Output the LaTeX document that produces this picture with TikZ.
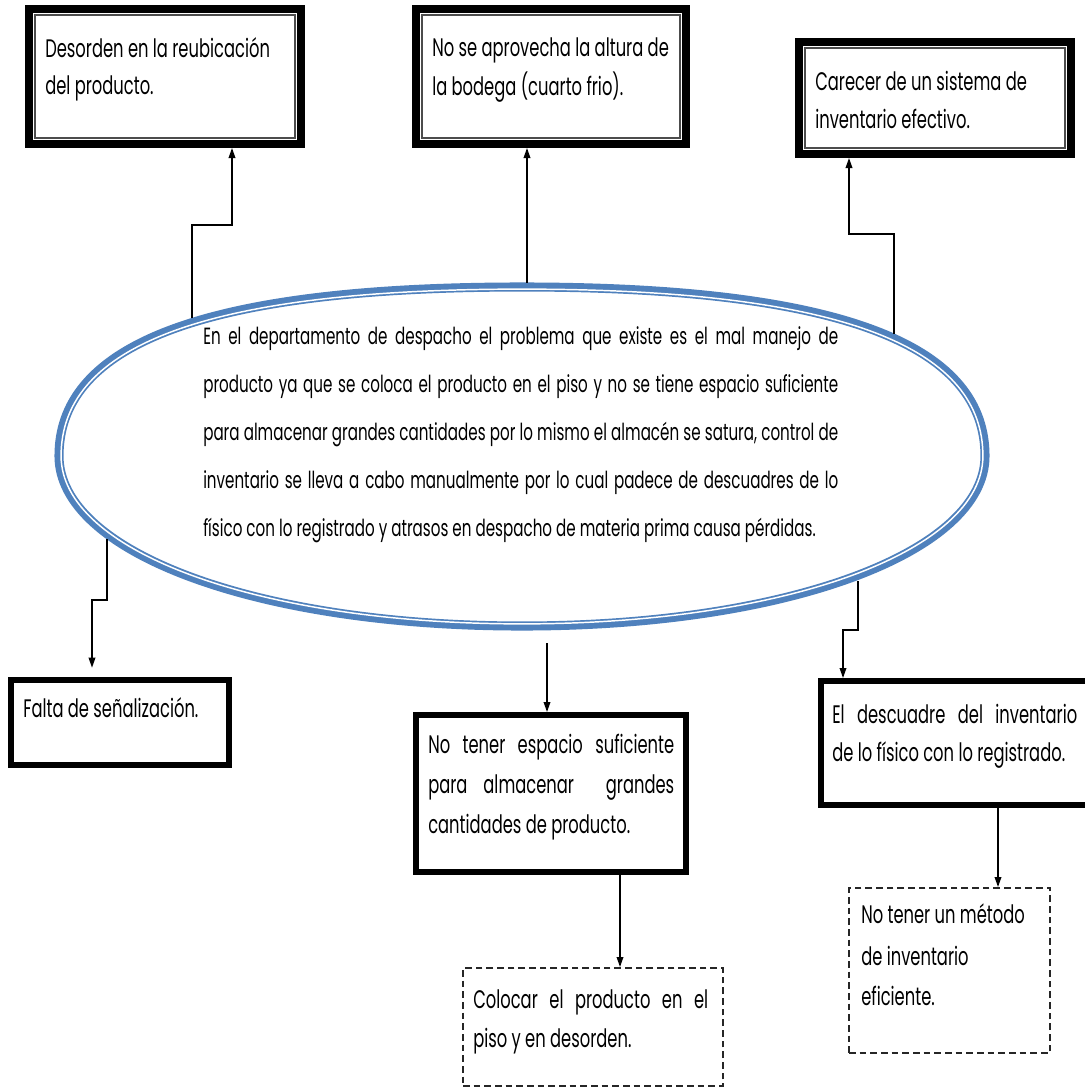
\documentclass[tikz,border=0pt]{standalone}
\usepackage{fontspec}
\setmainfont{Poppins}[FakeStretch=0.645]
\usetikzlibrary{arrows.meta,fit,calc}
\definecolor{ellblue}{RGB}{79,129,189}
\tikzset{
  x=0.75pt, y=-0.75pt,
  conn/.style={line width=1pt, draw=black},
  arr/.style={conn, -{Triangle[length=7.5pt,width=5pt]}},
  heavybox/.style={draw=black, line width=6pt, inner sep=0pt},
  boldbox/.style={draw=black, line width=4.5pt, inner sep=0pt},
  thinframe/.style={draw=black!70, line width=0.8pt},
  dashbox/.style={draw=black!85, line width=1.5pt, dash pattern=on 5pt off 3pt, inner sep=0pt},
  txt/.style={anchor=base west, inner sep=0pt, font=\fontsize{19}{24}\selectfont},
  etxt/.style={anchor=base west, inner sep=0pt, font=\fontsize{17.6}{22}\selectfont},
}
\def\blobpath{(-463,0) .. controls (-463,-105) and (-335,-169) .. (0,-169)
  .. controls (335,-169) and (463,-105) .. (463,0)
  .. controls (463,96) and (266,170) .. (0,170)
  .. controls (-266,170) and (-463,96) .. (-463,0) -- cycle}
\begin{document}
\begin{tikzpicture}
\clip (0,0) rectangle (1085,1089);
\fill[white] (0,0) rectangle (1085,1089);

% central shape
\coordinate (E) at (522,456);
\begin{scope}[shift={(E)}]
  \draw[ellblue, line width=6.8pt] \blobpath;
\end{scope}
\begin{scope}[shift={(E)}, xscale=0.9955, yscale=0.9875]
  \draw[white, line width=1.1pt] \blobpath;
\end{scope}

% top boxes (thick + thin frame)
\node[heavybox, fit={(29,9) (301,144)}] (b1) {};
\draw[thinframe] ($(b1.north west)+(10,10)$) rectangle ($(b1.south east)+(-10,-10)$);
\node[heavybox, fit={(416,9) (686,144)}] (b2) {};
\draw[thinframe] ($(b2.north west)+(10,10)$) rectangle ($(b2.south east)+(-10,-10)$);
\node[heavybox, fit={(799,42) (1071,154)}] (b3) {};
\draw[thinframe] ($(b3.north west)+(10,10)$) rectangle ($(b3.south east)+(-10,-10)$);

% lower boxes
\node[boldbox, fit={(11,680) (229,765)}] (b4) {};
\node[boldbox, fit={(416,715) (686,872)}] (b5) {};
\node[boldbox, fit={(821,681) (1092,805)}] (b6) {};

% dashed boxes
\node[dashbox, fit={(463,968) (723,1086)}] (d7) {};
\node[dashbox, fit={(849,888) (1050,1053)}] (d8) {};

% texts
\node[txt] (t1a) at (45,57) {Desorden en la reubicación};
\node[txt] (t1b) at (45,94) {del producto.};
\node[txt] (t2a) at (432,56) {No se aprovecha la altura de};
\node[txt] (t2b) at (432,95) {la bodega (cuarto frio).};
\node[txt] (t3a) at (815,90) {Carecer de un sistema de};
\node[txt] (t3b) at (815,128) {inventario efectivo.};
\node[txt] (t4a) at (23,717) {Falta de señalización.};
\node[txt] (t5a) at (428,753) {\makebox[184.5pt][s]{No tener espacio suficiente}};
\node[txt] (t5b) at (428,793) {\makebox[184.5pt][s]{para almacenar \ grandes}};
\node[txt] (t5c) at (428,833) {cantidades de producto.};
\node[txt] (t6a) at (832,723) {\makebox[183.75pt][s]{El descuadre del inventario}};
\node[txt] (t6b) at (832,761) {de lo físico con lo registrado.};
\node[txt] (t7a) at (473,1008) {\makebox[176.25pt][s]{Colocar el producto en el}};
\node[txt] (t7b) at (473,1047) {piso y en desorden.};
\node[txt] (t8a) at (861,923) {No tener un método};
\node[txt] (t8b) at (861,965) {de inventario};
\node[txt] (t8c) at (861,1005) {eficiente.};

\node[etxt] (ea) at (203,344) {\makebox[476.25pt][s]{En el departamento de despacho el problema que existe es el mal manejo de}};
\node[etxt] (eb) at (203,392) {\makebox[476.25pt][s]{producto ya que se coloca el producto en el piso y no se tiene espacio suficiente}};
\node[etxt] (ec) at (203,440) {\makebox[476.25pt][s]{para almacenar grandes cantidades por lo mismo el almacén se satura, control de}};
\node[etxt] (ed) at (203,488) {\makebox[476.25pt][s]{inventario se lleva a cabo manualmente por lo cual padece de descuadres de lo}};
\node[etxt] (ee) at (203,536) {físico con lo registrado y atrasos en despacho de materia prima causa pérdidas.};

% connector points (on the outer edge of the central shape)
\coordinate (e1) at (192,318);
\coordinate (k1) at (232,225);
\coordinate (e2) at (527,283);
\coordinate (e3) at (894,334);
\coordinate (k3) at (849,234);
\coordinate (e4) at (107,539);
\coordinate (k4) at (92,600);
\coordinate (e5) at (547,643);
\coordinate (e6) at (858,581);
\coordinate (k6) at (843,630);
\coordinate (x7) at (620,900);
\coordinate (x8) at (998,850);

\draw[arr] (e1) |- (k1) -- (k1 |- b1.south);
\draw[arr] (e2) -- (e2 |- b2.south);
\draw[arr] (e3) |- (k3) -- (k3 |- b3.south);
\draw[arr, shorten >=7pt] (e4) |- (k4) -- (k4 |- b4.north);
\draw[arr] (e5) -- (e5 |- b5.north);
\draw[arr] (e6) |- (k6) -- (k6 |- b6.north);
\draw[arr] (x7 |- b5.south) -- (x7 |- d7.north);
\draw[arr] (x8 |- b6.south) -- (x8 |- d8.north);
\end{tikzpicture}
\end{document}
